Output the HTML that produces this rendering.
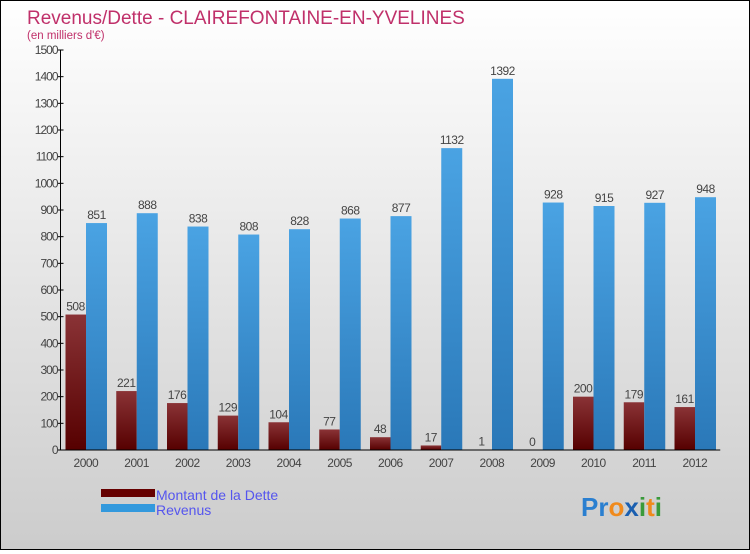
<!DOCTYPE html>
<html><head><meta charset="utf-8">
<style>
html,body{margin:0;padding:0}
body{width:750px;height:550px;overflow:hidden;font-family:"Liberation Sans",sans-serif}
#chart{position:absolute;left:0;top:0;width:748px;height:548px;border:1px solid #000;background:linear-gradient(#ffffff,#cccccc)}
</style></head>
<body>
<div id="chart">
<svg id="svg" width="748" height="548" xmlns="http://www.w3.org/2000/svg">
<defs>
<linearGradient id="gD" x1="0" y1="0" x2="0" y2="1"><stop offset="0" stop-color="#8a3336"/><stop offset="1" stop-color="#560000"/></linearGradient>
<linearGradient id="gR" x1="0" y1="0" x2="0" y2="1"><stop offset="0" stop-color="#4aa3e3"/><stop offset="1" stop-color="#2a78b8"/></linearGradient>
</defs>
<text x="26" y="23" font-size="19" fill="#c0306a">Revenus/Dette - CLAIREFONTAINE-EN-YVELINES</text>
<text x="26" y="38" font-size="11.5" fill="#c0306a">(en milliers d'€)</text>
<g id="plot"></g>
<rect x="100" y="488" width="54" height="8" fill="#660000"/>
<text x="155" y="499" font-size="14" fill="#5555ee">Montant de la Dette</text>
<rect x="100" y="503" width="54" height="8" fill="#3399dd"/>
<text x="155" y="514" font-size="14" fill="#5555ee">Revenus</text>
<g font-size="26" font-weight="bold">
<text x="580" y="515"><tspan fill="#2a7fd0">Pr</tspan><tspan fill="#f08a1c">o</tspan><tspan fill="#1a5fb0">x</tspan><tspan fill="#3a9a3a">i</tspan><tspan fill="#f08a1c">t</tspan><tspan fill="#3a9a3a">i</tspan></text>
</g>
</svg>
</div>
<script>
const years=["2000","2001","2002","2003","2004","2005","2006","2007","2008","2009","2010","2011","2012"];
const dette=[508,221,176,129,104,77,48,17,1,0,200,179,161];
const revenus=[851,888,838,808,828,868,877,1132,1392,928,915,927,948];
const yTicks=[0,100,200,300,400,500,600,700,800,900,1000,1100,1200,1300,1400,1500];
const NS="http://www.w3.org/2000/svg";
const g=document.getElementById('plot');
const X0=59.5,GW=50.75,Y0=449,YMAX=1500,YH=400;
const y=v=>Y0-v/YMAX*YH;
function mk(t,a,txt){const e=document.createElementNS(NS,t);for(const k in a)e.setAttribute(k,a[k]);if(txt!==undefined)e.textContent=txt;g.appendChild(e);return e;}
yTicks.forEach(v=>{
 const l=mk('line',{x1:X0-3,x2:X0+3,y1:y(v),y2:y(v),stroke:'#000'});
 
 
 const t=mk('text',{x:X0-3,y:y(v)+4,'font-size':12,'text-anchor':'end',fill:'#444','letter-spacing':'-1'},v);
 
 
});
years.forEach((yr,i)=>{
 const gx=X0+i*GW;
 const d=mk('rect',{x:gx+5,y:y(dette[i]),width:20.5,height:Y0-y(dette[i]),fill:'url(#gD)'});
 
 
 const r=mk('rect',{x:gx+25.5,y:y(revenus[i]),width:21,height:Y0-y(revenus[i]),fill:'url(#gR)'});
 
 
 const dl=mk('text',{x:gx+15,y:y(dette[i])-4,'font-size':12,'text-anchor':'middle',fill:'#444','letter-spacing':'-0.5'},dette[i]);
 
 
 const rl=mk('text',{x:gx+36,y:y(revenus[i])-4,'font-size':12,'text-anchor':'middle',fill:'#444','letter-spacing':'-0.5'},revenus[i]);
 
 
 const xl=mk('text',{x:gx+GW/2,y:466,'font-size':12,'text-anchor':'middle',fill:'#444','letter-spacing':'-0.5'},yr);
 
 
});
const ya=mk('line',{x1:X0,x2:X0,y1:y(1500),y2:Y0,stroke:'#000'});


const xa=mk('line',{x1:X0,x2:X0+13*GW,y1:Y0,y2:Y0,stroke:'#000'});


</script>
</body></html>
